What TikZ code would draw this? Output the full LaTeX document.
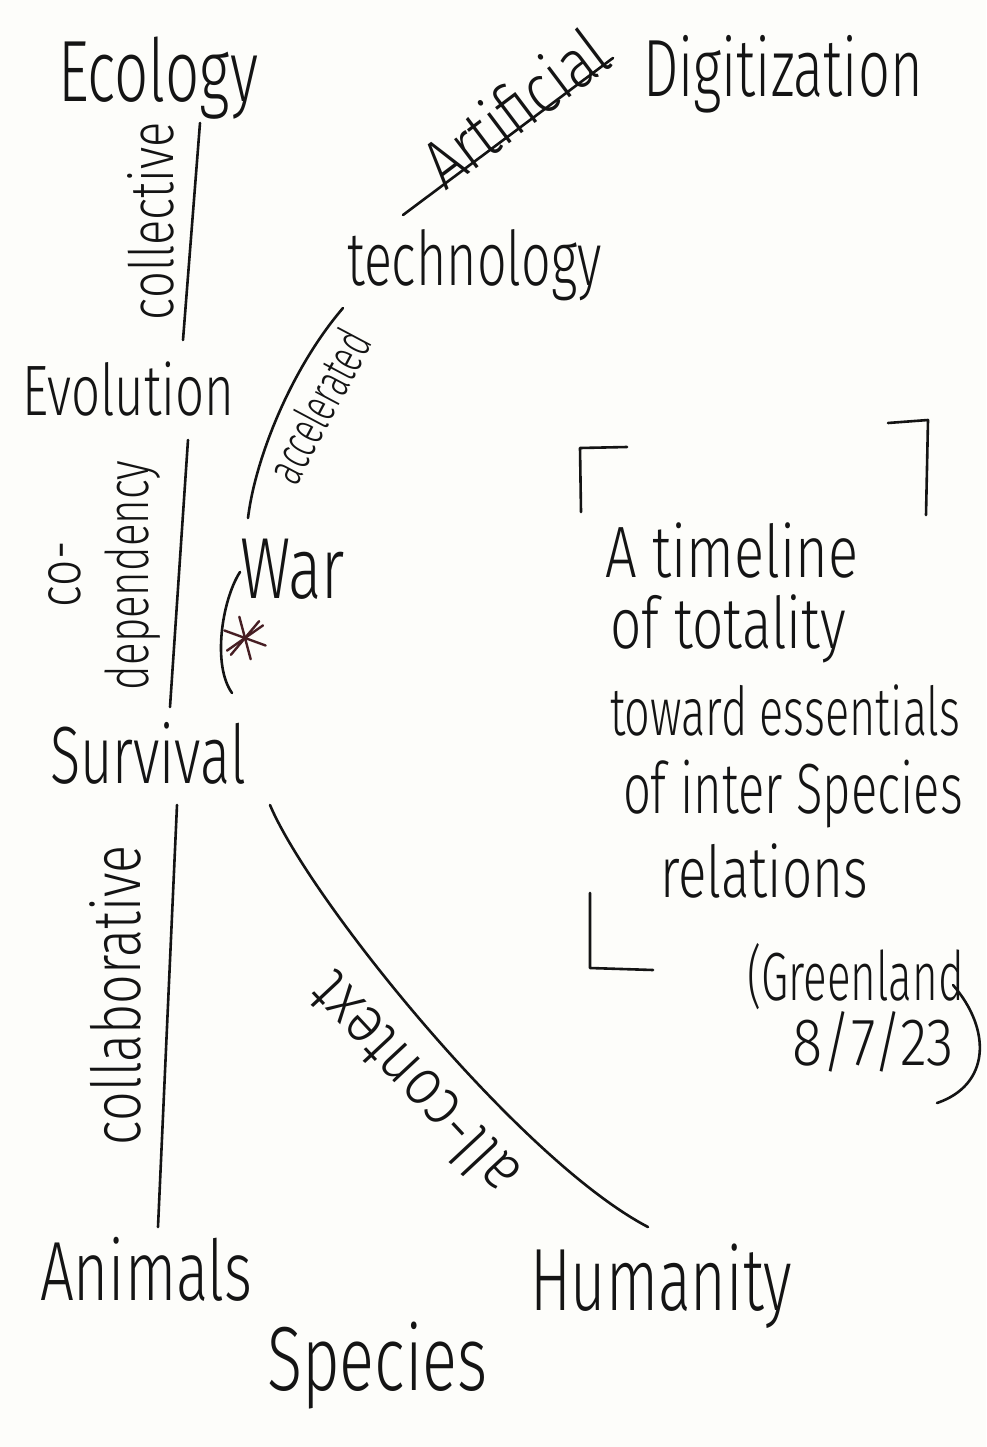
\documentclass[tikz,border=0pt]{standalone}
\usepackage{fontspec}
\setmainfont{Fira Sans Light}
\usetikzlibrary{calc}
\definecolor{inkc}{RGB}{20,20,20}
\definecolor{paper}{RGB}{253,253,250}
\definecolor{starc}{RGB}{70,30,35}
\newcommand\hwtext[3]{\fontsize{#1}{#1}\selectfont\scalebox{1}[#2]{#3}}
\tikzset{
  ink/.style={line width=2.6pt, line cap=round, line join=round, draw=inkc},
  hw/.style={inner sep=0pt, outer sep=0pt, text=inkc, anchor=base west},
}
\begin{document}
\begin{tikzpicture}[x=1pt,y=-1pt]
\fill[paper] (0,0) rectangle (986,1447);
\useasboundingbox (0,0) rectangle (986,1447);

% main labels
\node[hw] (eco) at (58,102) {\hwtext{60}{1.45}{Ecology}};
\node[hw] (dig) at (643,97) {\hwtext{56}{1.45}{Digitization}};
\node[hw, rotate=37] (art) at (445,192) {\hwtext{58}{1.2}{Artificial}};
\node[hw] (tech) at (347,285) {\hwtext{52}{1.45}{technology}};
\node[hw] (evo) at (22,415) {\hwtext{51}{1.4}{Evolution}};
\node[hw] (war) at (240,598) {\hwtext{62}{1.4}{War}};
\node[hw] (sur) at (50,783) {\hwtext{56}{1.45}{Survival}};
\node[hw] (ani) at (40,1300) {\hwtext{60}{1.4}{Animals}};
\node[hw] (spe) at (267,1390) {\hwtext{65}{1.4}{Species}};
\node[hw] (hum) at (530,1310) {\hwtext{61}{1.45}{Humanity}};

% edge labels
\node[hw, rotate=90] (lcol) at (173,320) {\hwtext{47}{1.3}{collective}};
\node[hw, rotate=90] (lco) at (80,607) {\hwtext{46}{1.3}{co-}};
\node[hw, rotate=90] (ldep) at (148,690) {\hwtext{42}{1.4}{dependency}};
\node[hw, rotate=90] (lcoll) at (140,1145) {\hwtext{52}{1.3}{collaborative}};
\node[hw, rotate=62] (lacc) at (296,487) {\hwtext{32}{1.6}{accelerated}};
\node[hw, rotate=133] (lall) at (524,1170) {\hwtext{58}{1.15}{all-context}};

% bracketed note
\node[hw] (n1) at (605,577) {\hwtext{56}{1.3}{A timeline}};
\node[hw] (n2) at (610,648) {\hwtext{55}{1.3}{of totality}};
\node[hw] (n3) at (610,735) {\hwtext{45}{1.5}{toward essentials}};
\node[hw] (n4) at (623,813) {\hwtext{49}{1.45}{of inter Species}};
\node[hw] (n5) at (660,897) {\hwtext{53}{1.35}{relations}};
\node[hw] (n6) at (747,1000) {\hwtext{44}{1.55}{(Greenland}};
\node[hw] (n7) at (792,1065) {\hwtext{56}{1.2}{8/7/23}};

% connector end points
\coordinate (c1a) at (200,123); \coordinate (c1b) at (183,340);
\coordinate (c2a) at (188,440); \coordinate (c2b) at (170,707);
\coordinate (c3a) at (177,805); \coordinate (c3b) at (158,1227);
\coordinate (c4a) at (270,805); \coordinate (c4b) at (648,1227);
\coordinate (c5a) at (343,308); \coordinate (c5b) at (248,518);
\coordinate (c6a) at (240,572); \coordinate (c6b) at (232,693);
\coordinate (c7a) at (403,215); \coordinate (c7b) at (613,58);
\coordinate (star) at (245,638);

% connectors
\draw[ink] (c1a) -- (c1b);
\draw[ink] (c2a) -- (c2b);
\draw[ink] (c3a) -- (c3b);
\draw[ink] (c4a) .. controls (310,900) and (520,1160) .. (c4b);
\draw[ink] (c5a) .. controls (290,370) and (255,460) .. (c5b);
\draw[ink] (c6a) .. controls (222,600) and (212,665) .. (c6b);
\draw[ink] (c7a) -- (c7b);

% asterisk on the war arc
\foreach \a in {75,20,-35,130}{
  \draw[ink, draw=starc, line width=2.4pt] ($(star)+(\a:22)$) -- ($(star)+(\a+180:22)$);
}

% brackets
\draw[ink] (627,447) -- (580,448) -- (581,512);
\draw[ink] (888,423) -- (928,420) -- (926,515);
\draw[ink] (590,893) -- (590,968) -- (653,970);
\draw[ink] (953,985) .. controls (992,1030) and (990,1085) .. (937,1103);
\end{tikzpicture}
\end{document}
